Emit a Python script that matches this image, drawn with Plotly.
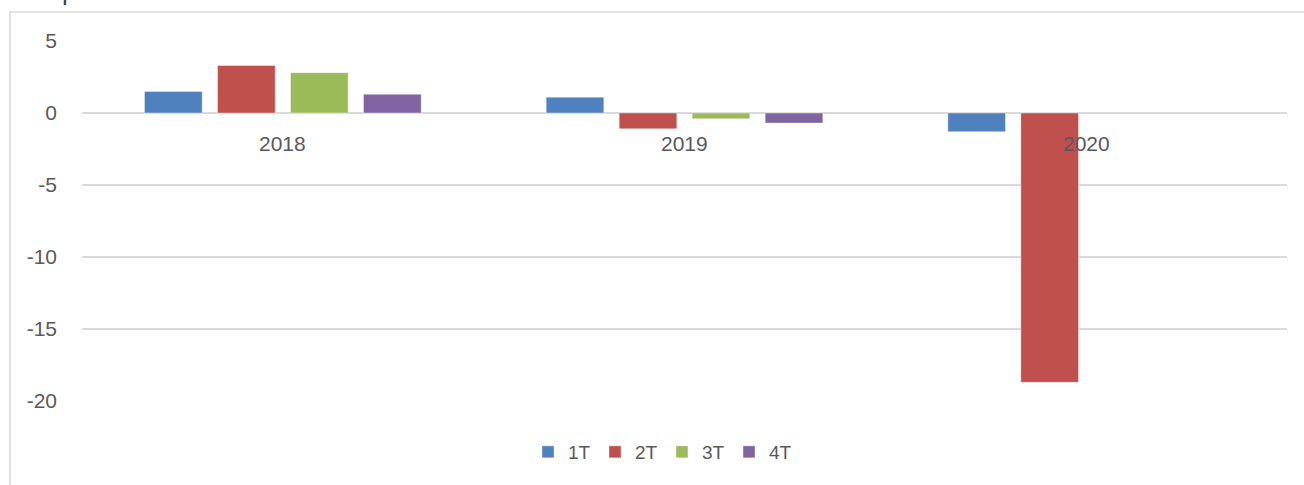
import plotly.graph_objects as go

years = ["2018", "2019", "2020"]
series_names = ["1T", "2T", "3T", "4T"]
v_1T = [1.5, 1.1, -1.3]
v_2T = [3.3, -1.1, -18.7]
v_3T = [2.8, -0.4, None]
v_4T = [1.3, -0.7, None]
colors = ["#4F81BD", "#C0504D", "#9BBB59", "#8064A2"]
y_ticks = [5, 0, -5, -10, -15, -20]
y_ticktext = ["5", "0", "-5", "-10", "-15", "-20"]
title_text = "putación local de la Ciudad de México"

W, H = 1304, 485
L, R, T, B = 82, 17, 41, 84
pw, ph = W - L - R, H - T - B

def px_to_paper_x(px):
    return (px - L) / pw

def px_to_paper_y(py):
    return (H - B - py) / ph

fig = go.Figure()
for name, vals, col in zip(series_names, [v_1T, v_2T, v_3T, v_4T], colors):
    fig.add_trace(go.Bar(
        x=years, y=vals, name=name,
        marker=dict(color=col, line=dict(color="rgba(255,255,255,0.5)", width=0.8)),
    ))

font_family = "Liberation Sans, Arial, sans-serif"
txt_color = "#595959"

annotations = []
for i, yr in enumerate(years):
    annotations.append(dict(
        x=i, y=0, xref="x", yref="y", text=yr, showarrow=False,
        yshift=-30, font=dict(size=21, color=txt_color, family=font_family),
    ))
annotations.append(dict(
    x=px_to_paper_x(60), y=px_to_paper_y(7.5), xref="paper", yref="paper",
    xanchor="left", yanchor="bottom", text=title_text, showarrow=False,
    font=dict(size=26, color="#404040", family=font_family),
))

fig.update_layout(
    width=W, height=H,
    margin=dict(l=L, r=R, t=T, b=B, autoexpand=False),
    paper_bgcolor="white", plot_bgcolor="white",
    barmode="group", bargap=0.273, bargroupgap=0.21,
    font=dict(family=font_family, size=20, color=txt_color),
    xaxis=dict(type="category", range=[-0.5, 2.5], showticklabels=False, showgrid=False,
               zeroline=False, showline=False, ticks=""),
    yaxis=dict(range=[-20, 5], tickvals=y_ticks, ticktext=y_ticktext, showgrid=True,
               gridcolor="#D9D9D9", gridwidth=1.5, zeroline=True,
               zerolinecolor="#D9D9D9", zerolinewidth=1.5,
               showline=False, ticks="", ticklabelstandoff=24,
               tickfont=dict(size=21, color=txt_color)),
    showlegend=True,
    legend=dict(orientation="h", x=px_to_paper_x(662), xanchor="center",
                y=px_to_paper_y(452), yanchor="middle",
                font=dict(size=19, color=txt_color), traceorder="normal",
                itemwidth=30, entrywidth=22, entrywidthmode="pixels"),
    annotations=annotations,
    shapes=[dict(type="rect", xref="paper", yref="paper",
                 x0=px_to_paper_x(10), x1=px_to_paper_x(1320),
                 y0=px_to_paper_y(500), y1=px_to_paper_y(12),
                 line=dict(color="#D9D9D9", width=1.5), layer="below")],
)

fig.write_html("out.html", config={"displayModeBar": False},
               post_script="document.body.style.margin='0';")
